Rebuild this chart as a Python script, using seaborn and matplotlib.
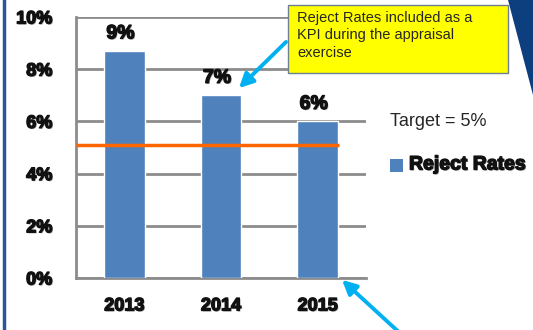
import matplotlib
matplotlib.use("Agg")
import matplotlib.pyplot as plt
import matplotlib.patches as mpatches
import matplotlib.patheffects as pe
import seaborn as sns
import pandas as pd

years = ["2013", "2014", "2015"]
reject_rates = [8.7, 7.0, 6.0]
bar_labels = ["9%", "7%", "6%"]
target = 5.1
y_ticks = [0, 2, 4, 6, 8, 10]
y_tick_labels = ["0%", "2%", "4%", "6%", "8%", "10%"]
callout_text = "Reject Rates included as a\nKPI during the appraisal\nexercise"
target_text = "Target = 5%"
legend_text = "Reject Rates"

sns.set_style("white")
plt.rcParams['font.family'] = ['Liberation Sans', 'DejaVu Sans']

BAR = "#4f81bd"
GRID = "#8c8c8c"
W, H = 533, 330
heavy = [pe.withSimplePatchShadow(offset=(0.8, -0.8), shadow_rgbFace="#777777", alpha=0.6),
         pe.withStroke(linewidth=1.0, foreground="#111111")]

fig = plt.figure(figsize=(W / 100, H / 100), dpi=100)
ax = fig.add_axes([76 / W, 1 - 278 / H, 290 / W, 261 / H])

df = pd.DataFrame({"year": years, "rate": reject_rates})
sns.barplot(data=df, x="year", y="rate", color=BAR, width=0.42, ax=ax, zorder=3,
            saturation=1)

ax.set_ylim(0, 10)
ax.set_xlim(-0.5, 2.5)
ax.set_yticks(y_ticks)
ax.set_yticklabels(y_tick_labels, fontsize=13, fontweight="bold")
ax.set_xticks(range(len(years)))
ax.set_xticklabels(years, fontsize=13, fontweight="bold")
ax.set_xticks([-0.5, 0.5, 1.5, 2.5], minor=True)
ax.tick_params(axis="x", which="major", length=0, pad=14)
ax.tick_params(axis="x", which="minor", length=7, width=2, color=GRID, direction="out")
ax.tick_params(axis="y", length=7, width=2, color=GRID, pad=10)
for lab in ax.get_xticklabels() + ax.get_yticklabels():
    lab.set_path_effects(heavy)
    lab.set_color("#111111")
ax.set_xlabel("")
ax.set_ylabel("")
for s in ["top", "right"]:
    ax.spines[s].set_visible(False)
for s in ["left", "bottom"]:
    ax.spines[s].set_color(GRID)
    ax.spines[s].set_linewidth(2)
ax.yaxis.grid(True, color=GRID, linewidth=2, zorder=0)
ax.set_axisbelow(True)

# target line
ax.hlines(target, -0.5, 2.22, color="#ff6600", linewidth=2.5, zorder=4)

# bar value labels
for i, (v, lab) in enumerate(zip(reject_rates, bar_labels)):
    ax.text(i - 0.04, v + 0.65, lab, ha="center", va="center", fontsize=14,
            fontweight="bold", color="#111111", zorder=5, path_effects=heavy)

# left slide border
fig.add_artist(plt.Line2D([4 / W, 4 / W], [0, 1], color="#2c5496", linewidth=2.5,
                          transform=fig.transFigure))
# top-right triangle
fig.add_artist(mpatches.Polygon([(508 / W, 1), (1, 1), (1, 1 - 95 / H)], closed=True,
                                facecolor="#0d3f7e", edgecolor="none",
                                transform=fig.transFigure))

# callout box
fig.add_artist(mpatches.Rectangle((288 / W, 1 - 73 / H), 220 / W, 68 / H,
                                  facecolor="#ffff00", edgecolor="#6f7f93", linewidth=1,
                                  transform=fig.transFigure, zorder=6))
fig.text(297 / W, 1 - 11 / H, callout_text, ha="left", va="top", fontsize=10.5,
         linespacing=1.3, zorder=7)

# arrows
arrow_kw = dict(arrowstyle="-|>,head_length=0.7,head_width=0.35", color="#00b0f0", lw=2.8)
fig.add_artist(mpatches.FancyArrowPatch((288 / W, 1 - 40 / H), (237 / W, 1 - 90 / H),
                                        transform=fig.transFigure, mutation_scale=12,
                                        zorder=8, **arrow_kw))
fig.add_artist(mpatches.FancyArrowPatch((402 / W, 1 - 335 / H), (340 / W, 1 - 278 / H),
                                        transform=fig.transFigure, mutation_scale=12,
                                        zorder=8, **arrow_kw))

# legend-like texts
fig.text(390 / W, 1 - 122 / H, target_text, ha="left", va="center", fontsize=13)
fig.add_artist(mpatches.Rectangle((390 / W, 1 - 172 / H), 13 / W, 13 / H,
                                  facecolor=BAR, edgecolor="none",
                                  transform=fig.transFigure))
fig.text(409 / W, 1 - 165 / H, legend_text, ha="left", va="center", fontsize=14,
         fontweight="bold", color="#111111", path_effects=heavy)

fig.savefig("out.png", dpi=100)
